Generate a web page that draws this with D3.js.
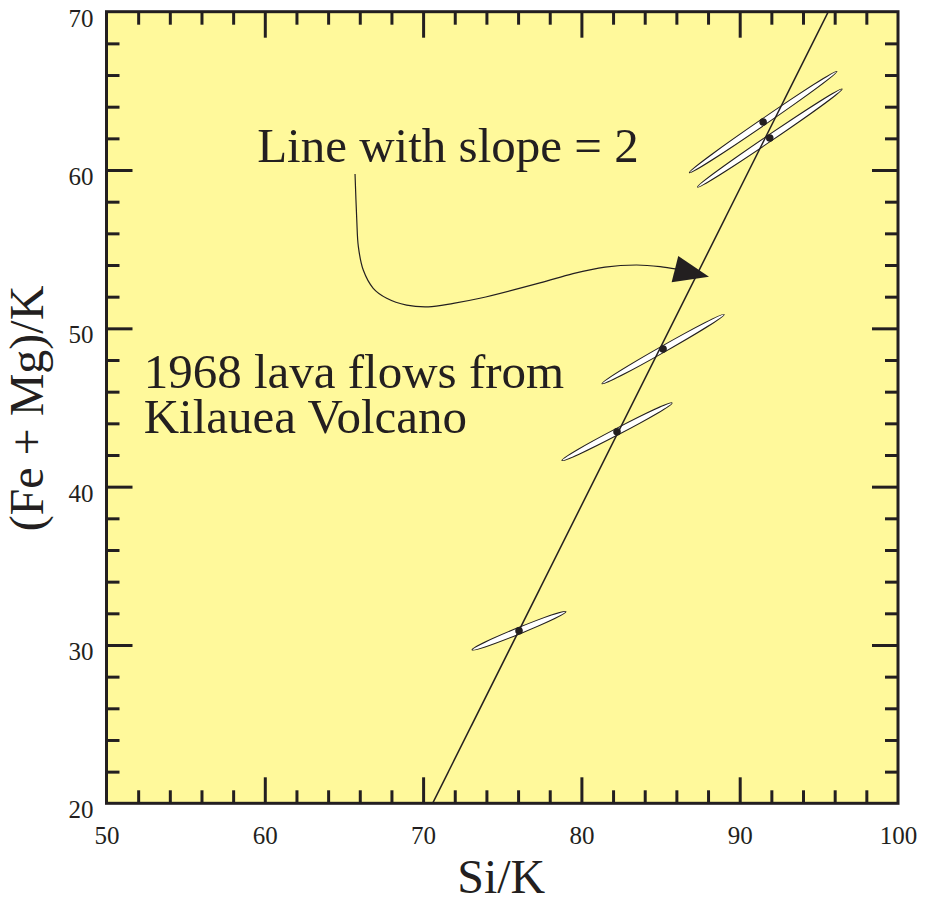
<!DOCTYPE html>
<html>
<head>
<meta charset="utf-8">
<script src="https://cdn.jsdelivr.net/npm/d3@7"></script>
<style>
    html, body { margin: 0; padding: 0; background: #fff; }
    text { font-family: "Liberation Serif", "DejaVu Serif", serif; fill: #231f20; }
</style>
</head>
<body>
<div id="chart"></div>
<script>
'use strict';

// lava flow samples (centre of each error ellipse)
var siK = [76.06, 82.25, 85.16, 91.48, 91.90];
var feMgK = [30.90, 43.47, 48.69, 63.03, 62.02];
// half-length of the long axis of each error ellipse, in data units
var errSi = [2.97, 3.48, 3.86, 4.66, 4.57];
var errFeMg = [1.21, 1.82, 2.19, 3.20, 3.10];
var errMinor = 0.2;

// reference line
var lineSlope = 2;
var lineIntercept = -121.2;

// axis ticks
var xLabels = [50, 60, 70, 80, 90, 100];
var yLabels = [20, 30, 40, 50, 60, 70];
var xMajor = [60, 70, 80, 90];
var yMajor = [30, 40, 50, 60];

// annotation arrow (data units)
var arrowX = [65.70, 65.81, 65.91, 66.22, 66.85, 67.70, 68.96, 70.33, 71.91, 73.59,
              77.38, 79.47, 81.49, 83.49, 84.97, 86.02];
var arrowY = [59.75, 56.84, 55.16, 53.68, 52.53, 51.90, 51.47, 51.36, 51.58, 51.90,
              52.87, 53.46, 53.87, 54.00, 53.90, 53.74];
var arrowHeadX = [86.12, 88.06, 85.70];
var arrowHeadY = [54.57, 53.26, 52.91];

var W = 928, H = 898;
var margin = {top: 11.7, right: 30, bottom: 94.7, left: 106.5};
var width = W - margin.left - margin.right,
    height = H - margin.top - margin.bottom;
var ink = '#231f20';

var svg = d3.select('#chart').append('svg')
    .attr('width', W)
    .attr('height', H);

var g = svg.append('g')
    .attr('transform', 'translate(' + margin.left + ',' + margin.top + ')');

var x = d3.scaleLinear().domain([50, 100]).range([0, width]);
var y = d3.scaleLinear().domain([20, 70]).range([height, 0]);

g.append('rect')
    .attr('width', width)
    .attr('height', height)
    .attr('fill', '#fff99b');

function minorTicks(lo, hi, major) {
    return d3.range(lo + 2, hi, 2).filter(function (v) {
        return major.indexOf(v) < 0;
    });
}

var xMinor = minorTicks(50, 100, xMajor);
var yMinor = minorTicks(20, 70, yMajor);

// inward ticks on all four sides
function tickAxis(axis, vals, size, transform) {
    var a = g.append('g')
        .attr('transform', transform)
        .call(axis.tickValues(vals).tickSize(size).tickFormat(''));
    a.select('.domain').remove();
    a.selectAll('line').attr('stroke', ink).attr('stroke-width', 3);
}

tickAxis(d3.axisBottom(x), xMinor, -13, 'translate(0,' + height + ')');
tickAxis(d3.axisBottom(x), xMajor, -26, 'translate(0,' + height + ')');
tickAxis(d3.axisTop(x), xMinor, -13, 'translate(0,0)');
tickAxis(d3.axisTop(x), xMajor, -26, 'translate(0,0)');
tickAxis(d3.axisLeft(y), yMinor, -13, 'translate(0,0)');
tickAxis(d3.axisLeft(y), yMajor, -26, 'translate(0,0)');
tickAxis(d3.axisRight(y), yMinor, -13, 'translate(' + width + ',0)');
tickAxis(d3.axisRight(y), yMajor, -26, 'translate(' + width + ',0)');

// tick labels
var xl = g.append('g')
    .attr('transform', 'translate(0,' + height + ')')
    .call(d3.axisBottom(x).tickValues(xLabels).tickSize(0).tickFormat(d3.format('d')));
xl.select('.domain').remove();
xl.selectAll('text')
    .attr('y', 41)
    .attr('dy', 0)
    .style('font-size', '25px')
    .style('font-family', '"Liberation Serif", serif')
    .attr('fill', ink);

var yl = g.append('g')
    .call(d3.axisLeft(y).tickValues(yLabels).tickSize(0).tickFormat(d3.format('d')));
yl.select('.domain').remove();
yl.selectAll('text')
    .attr('x', -13)
    .attr('dy', 14.5)
    .style('font-size', '25px')
    .style('font-family', '"Liberation Serif", serif')
    .attr('fill', ink);

// clip for marks
g.append('clipPath').attr('id', 'plot-clip')
    .append('rect').attr('width', width).attr('height', height);

var marks = g.append('g').attr('clip-path', 'url(#plot-clip)');

// error ellipses
var samples = siK.map(function (v, i) {
    return {si: v, fm: feMgK[i], dx: errSi[i], dy: errFeMg[i]};
});

marks.selectAll('.ellipse')
    .data(samples)
    .enter().append('ellipse')
    .attr('class', 'ellipse')
    .attr('rx', function (d) {
        var px = x(d.si + d.dx) - x(d.si), py = y(d.fm + d.dy) - y(d.fm);
        return Math.sqrt(px * px + py * py);
    })
    .attr('ry', y(0) - y(errMinor))
    .attr('transform', function (d) {
        var px = x(d.si + d.dx) - x(d.si), py = y(d.fm + d.dy) - y(d.fm);
        var ang = Math.atan2(py, px) * 180 / Math.PI;
        return 'translate(' + x(d.si) + ',' + y(d.fm) + ') rotate(' + ang + ')';
    })
    .attr('fill', '#fff')
    .attr('stroke', ink)
    .attr('stroke-width', 1);

// slope = 2 line
var y0 = 20, y1 = 70;
marks.append('line')
    .attr('x1', x((y0 - lineIntercept) / lineSlope))
    .attr('y1', y(y0))
    .attr('x2', x((y1 - lineIntercept) / lineSlope))
    .attr('y2', y(y1))
    .attr('stroke', ink)
    .attr('stroke-width', 1.5);

// sample dots
marks.selectAll('.dot')
    .data(samples)
    .enter().append('circle')
    .attr('class', 'dot')
    .attr('cx', function (d) { return x(d.si); })
    .attr('cy', function (d) { return y(d.fm); })
    .attr('r', 3.8)
    .attr('fill', ink);

// annotation arrow
var arrowPts = arrowX.map(function (v, i) { return [v, arrowY[i]]; });
var curve = d3.line()
    .x(function (d) { return x(d[0]); })
    .y(function (d) { return y(d[1]); })
    .curve(d3.curveCatmullRom.alpha(0.5));

marks.append('path')
    .attr('d', curve(arrowPts))
    .attr('fill', 'none')
    .attr('stroke', ink)
    .attr('stroke-width', 1.2);

var headPts = arrowHeadX.map(function (v, i) { return [x(v), y(arrowHeadY[i])]; });
marks.append('path')
    .attr('d', 'M' + headPts.join('L') + 'Z')
    .attr('fill', ink);

// frame
g.append('rect')
    .attr('width', width)
    .attr('height', height)
    .attr('fill', 'none')
    .attr('stroke', ink)
    .attr('stroke-width', 3);

// annotations
g.append('text')
    .attr('x', x(59.52))
    .attr('y', y(60.52))
    .style('font-size', '49px')
    .text('Line with slope = 2');

var note = g.append('text')
    .attr('x', x(52.35))
    .attr('y', y(46.21))
    .style('font-size', '49px');
note.append('tspan').text('1968 lava flows from');
note.append('tspan')
    .attr('x', x(52.35))
    .attr('y', y(43.37))
    .text('Kilauea Volcano');

// axis titles
svg.append('text')
    .attr('x', margin.left + width / 2 - 1)
    .attr('y', 893)
    .attr('text-anchor', 'middle')
    .style('font-size', '48px')
    .text('Si/K');

svg.append('text')
    .attr('transform', 'translate(43,' + (margin.top + height / 2 + 1) + ') rotate(-90)')
    .attr('text-anchor', 'middle')
    .style('font-size', '48px')
    .text('(Fe + Mg)/K');
</script>
</body>
</html>
